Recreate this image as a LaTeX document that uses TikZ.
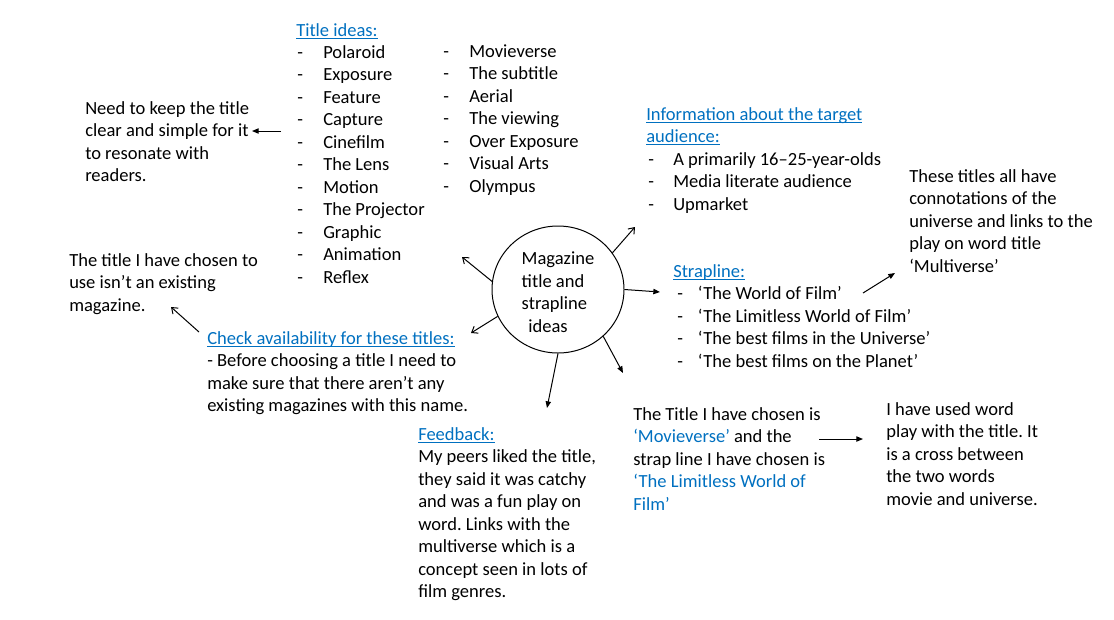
\documentclass[tikz,border=0pt]{standalone}
\usepackage{fontspec}
\setmainfont{Carlito}
\usetikzlibrary{arrows.meta,shapes.geometric}
\frenchspacing
\definecolor{headblue}{RGB}{0,112,192}
\newsavebox{\hdbox}
\newcommand{\li}[2][19.5pt]{\makebox[#1][l]{-}#2}
\newcommand{\hd}[1]{\sbox{\hdbox}{\color{headblue}#1}\rlap{\usebox{\hdbox}}\textcolor{headblue}{\rule[-1.8pt]{\wd\hdbox}{0.6pt}}}
\tikzset{%
txt/.style={anchor=north west, inner sep=0pt, align=left, font=\fontsize{13.9}{16.9}\selectfont},%
hub/.style={ellipse, draw, line width=0.75pt, minimum width=99pt, minimum height=95.25pt, inner sep=0pt, align=left, font=\fontsize{13.9}{16.9}\selectfont},%
arr/.style={line width=0.75pt, -{Triangle[length=5pt,width=4pt]}},%
oarr/.style={line width=0.75pt, -{Straight Barb[length=4pt,width=6pt]}}%
}
\begin{document}
\begin{tikzpicture}[x=0.75pt, y=-0.75pt]%
\useasboundingbox (0, 0) rectangle (1114, 619);%
\node[hub] (hub) at (558, 289.5) {\rule{0pt}{13.4pt}Magazine\\title and\\strapline\\\hspace*{5pt}ideas};%
% title ideas
\node[txt] (titlehead) at (296, 20) {\strut\hd{Title ideas:}};%
\node[txt] (titlesA) at (297, 42) {\strut\li{Polaroid}\\\li{Exposure}\\\li{Feature}\\\li{Capture}\\\li{Cinefilm}\\\li{The Lens}\\\li{Motion}\\\li{The Projector}\\\li{Graphic}\\\li{Animation}\\\li{Reflex}};%
\node[txt] (titlesB) at (443, 41) {\strut\li{Movieverse}\\\li{The subtitle}\\\li{Aerial}\\\li{The viewing}\\\li{Over Exposure}\\\li{Visual Arts}\\\li{Olympus}};%
\node[txt] (keep) at (85, 98) {\strut Need to keep the title\\clear and simple for it\\to resonate with\\readers.};%
\node[txt] (exist) at (69, 250) {\strut The title I have chosen to\\use isn’t an existing\\magazine.};%
\node[txt] (check) at (207, 328) {\strut\hd{Check availability for these titles:}\\- Before choosing a title I need to\\make sure that there aren’t any\\existing magazines with this name.};%
% audience and strapline
\node[txt] (info) at (646, 104) {\strut\hd{Information about the target}\\\hd{audience:}\\\hspace*{1.5pt}\li[18.75pt]{A primarily 16–25-year-olds}\\\hspace*{1.5pt}\li[18.75pt]{Media literate audience}\\\hspace*{1.5pt}\li[18.75pt]{Upmarket}};%
\node[txt] (connot) at (909, 166) {\strut These titles all have\\connotations of the\\universe and links to the\\play on word title\\‘Multiverse’};%
\node[txt] (strap) at (673, 261) {\strut\hd{Strapline:}\\\hspace*{3pt}\li[15.5pt]{‘The World of Film’}\\\hspace*{3pt}\li[15.5pt]{‘The Limitless World of Film’}\\\hspace*{3pt}\li[15.5pt]{‘The best films in the Universe’}\\\hspace*{3pt}\li[15.5pt]{‘The best films on the Planet’}};%
% feedback and final choice
\node[txt] (feedback) at (418, 424) {\strut\hd{Feedback:}\\My peers liked the title,\\they said it was catchy\\and was a fun play on\\word. Links with the\\multiverse which is a\\concept seen in lots of\\film genres.};%
\node[txt] (chosen) at (633, 404) {\strut The Title I have chosen is\\\textcolor{headblue}{‘Movieverse’} and the\\strap line I have chosen is\\\textcolor{headblue}{‘The Limitless World of}\\\textcolor{headblue}{Film’}};%
\node[txt] (wordplay) at (886, 399) {\strut I have used word\\play with the title. It\\is a cross between\\the two words\\movie and universe.};%
% arrow ends
\coordinate (toinfo) at (635, 227);%
\coordinate (tostrap) at (660, 292);%
\coordinate (totitles) at (462, 257);%
\coordinate (tocheck) at (471, 333);%
\coordinate (tochosen) at (623, 373);%
\coordinate (tofeed) at (547, 408);%
\coordinate (keepfrom) at (281, 131);%
\coordinate (keepto) at (252, 131);%
\coordinate (existfrom) at (199, 332);%
\coordinate (existto) at (171, 307);%
\coordinate (connotfrom) at (863, 293);%
\coordinate (connotto) at (895, 273);%
\coordinate (wordfrom) at (819, 439);%
\coordinate (wordto) at (863, 439);%
\draw[oarr] (hub.34) -- (toinfo);%
\draw[arr] (hub.0) -- (tostrap);%
\draw[oarr] (hub.173) -- (totitles);%
\draw[oarr] (hub.204) -- (tocheck);%
\draw[arr] (hub.-46) -- (tochosen);%
\draw[arr] (hub.-90) -- (tofeed);%
\draw[arr] (keepfrom) -- (keepto);%
\draw[oarr] (existfrom) -- (existto);%
\draw[arr] (connotfrom) -- (connotto);%
\draw[arr] (wordfrom) -- (wordto);%
\end{tikzpicture}
\end{document}
